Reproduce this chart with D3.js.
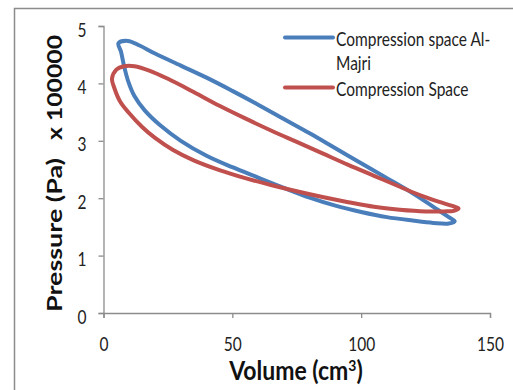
<!DOCTYPE html>
<html>
<head>
<meta charset="utf-8">
<script src="https://cdn.jsdelivr.net/npm/d3@7"></script>
<style>
  body { margin: 0; background: #fff; }
  svg { display: block; font-family: Lato, "Open Sans", sans-serif; }
</style>
</head>
<body>
<svg width="513" height="390"></svg>
<script>
// Compression space Al-Majri loop (volume cm3, pressure x 100000 Pa)
const alMajriVolume = [5.8, 9.5, 14, 20, 30, 40, 50, 60, 70, 80, 90, 100, 110, 118, 125, 130, 134, 136.3,
  134, 128, 120, 110, 100, 90, 80, 70, 60, 50, 40, 30, 22, 16, 12, 9.5, 8, 6.8];
const alMajriPressure = [4.70, 4.74, 4.66, 4.52, 4.31, 4.10, 3.87, 3.63, 3.38, 3.13, 2.87, 2.61, 2.35, 2.14, 1.94, 1.79, 1.67, 1.60,
  1.56, 1.57, 1.61, 1.67, 1.76, 1.87, 2.01, 2.18, 2.36, 2.54, 2.74, 3.00, 3.27, 3.53, 3.78, 4.05, 4.30, 4.55];

// Compression Space loop
const compVolume = [3.3, 5, 8, 12, 18, 25, 35, 45, 55, 65, 75, 85, 95, 105, 115, 123, 130, 135, 137.8,
  136, 132, 125, 115, 105, 95, 85, 75, 65, 55, 45, 35, 27, 20, 15, 10, 6.5, 4.2];
const compPressure = [4.08, 4.24, 4.30, 4.30, 4.22, 4.08, 3.85, 3.61, 3.39, 3.18, 2.98, 2.78, 2.58, 2.39, 2.20, 2.05, 1.94, 1.87, 1.82,
  1.78, 1.77, 1.77, 1.80, 1.85, 1.93, 2.02, 2.12, 2.23, 2.35, 2.49, 2.66, 2.84, 3.05, 3.24, 3.48, 3.68, 3.92];

const xTicks = [0, 50, 100, 150];
const yTicks = [0, 1, 2, 3, 4, 5];
const seriesNames = ['Compression space Al-Majri', 'Compression Space'];

const svg = d3.select('svg');

// the original picture is a bit stretched vertically, text included
const stretch = 1.3;

// chart frame (right and bottom edges run off the picture)
svg.append('rect')
    .attr('x', 14.5).attr('y', 8.5)
    .attr('width', 520).attr('height', 400)
    .attr('fill', 'none')
    .attr('stroke', '#8c8c8c')
    .attr('stroke-width', 1.5);

const xScale = d3.scaleLinear().domain([0, 150]).range([103.5, 490]);
const yScale = d3.scaleLinear().domain([0, 5]).range([313, 26]);

const axisColor = '#8c8c8c';

const xAxis = d3.axisBottom(xScale).tickValues(xTicks).tickSize(5).tickPadding(13.5);
const yAxis = d3.axisLeft(yScale).tickValues(yTicks).tickFormat(d3.format('d')).tickSize(5).tickPadding(12);

const gx = svg.append('g')
    .attr('transform', `translate(0, ${yScale(0)})`)
    .call(xAxis);
const gy = svg.append('g')
    .attr('transform', `translate(${xScale(0)}, 0)`)
    .call(yAxis);

[gx, gy].forEach(g => {
    g.select('.domain').attr('stroke', axisColor).attr('stroke-width', 1.3);
    g.selectAll('.tick line').attr('stroke', axisColor).attr('stroke-width', 1.3);
    g.selectAll('.tick text')
        .attr('fill', '#222')
        .attr('transform', `scale(1, ${stretch})`)
        .style('font-size', '15.5px')
        .style('font-family', 'Lato, sans-serif');
});
gy.selectAll('.tick text').attr('dy', '0.5em');

// axis titles
const xTitle = svg.append('text')
    .attr('transform', `translate(296, 380) scale(1, 1.12)`)
    .attr('text-anchor', 'middle')
    .style('font-size', '23px').style('font-weight', 'bold')
    .attr('fill', '#111');
xTitle.append('tspan').text('Volume (cm');
xTitle.append('tspan').attr('dy', -8).style('font-size', '14px').text('3');
xTitle.append('tspan').attr('dy', 8).text(')');

const yTitleParts = [
    {text: 'Pressure (Pa)', start: 312, len: 154},
    {text: 'x 100000', start: 140, len: 105}
];
yTitleParts.forEach(p => {
    svg.append('text')
        .attr('transform', `translate(62, ${p.start}) rotate(-90)`)
        .attr('textLength', p.len)
        .attr('lengthAdjust', 'spacingAndGlyphs')
        .style('font-size', '21px').style('font-weight', 'bold')
        .attr('fill', '#111')
        .text(p.text);
});

// loops
const line = d3.line()
    .x(d => xScale(d[0]))
    .y(d => yScale(d[1]))
    .curve(d3.curveCatmullRomClosed.alpha(0.5));

const loops = [
    {name: seriesNames[0], color: '#4a7ebb', pts: d3.zip(alMajriVolume, alMajriPressure)},
    {name: seriesNames[1], color: '#c0504d', pts: d3.zip(compVolume, compPressure)}
];

svg.selectAll('path.loop').data(loops)
    .enter().append('path')
        .attr('class', 'loop')
        .attr('d', d => line(d.pts))
        .attr('fill', 'none')
        .attr('stroke', d => d.color)
        .attr('stroke-width', 4)
        .attr('stroke-linejoin', 'round');

// legend
const legend = svg.append('g');
const legendRows = [
    {color: loops[0].color, y: 37.5, base: [46, 69.5], lines: ['Compression space Al-', 'Majri']},
    {color: loops[1].color, y: 87.5, base: [96], lines: ['Compression Space']}
];
legendRows.forEach(r => {
    legend.append('line')
        .attr('x1', 285).attr('x2', 333)
        .attr('y1', r.y).attr('y2', r.y)
        .attr('stroke', r.color)
        .attr('stroke-width', 4)
        .attr('stroke-linecap', 'round');
    r.lines.forEach((t, i) => {
        legend.append('text')
            .attr('transform', `translate(336, ${r.base[i]}) scale(1, 1.2)`)
            .style('font-size', '15.5px')
            .attr('fill', '#222')
            .text(t);
    });
});
</script>
</body>
</html>
